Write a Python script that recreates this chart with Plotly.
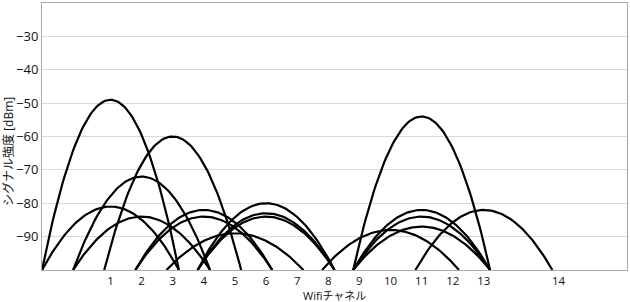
import plotly.graph_objects as go
import numpy as np

# Access point data: channel and peak signal strength (dBm)
ap_channels = [1, 1, 2, 2, 3, 4, 4, 5, 6, 6, 6, 10, 11, 11, 11, 11, 13]
ap_peaks = [-49, -81, -72, -84, -60, -82, -84, -89, -80, -83, -84, -88, -54, -82, -84, -87, -82]

# Channel centre frequencies (MHz) and tick labels
chan_numbers = [1, 2, 3, 4, 5, 6, 7, 8, 9, 10, 11, 12, 13, 14]
chan_freqs = [2412, 2417, 2422, 2427, 2432, 2437, 2442, 2447, 2452, 2457, 2462, 2467, 2472, 2484]
y_ticks = [-30, -40, -50, -60, -70, -80, -90]

FLOOR = -100
HALF_WIDTH = 11  # MHz

freq_of = dict(zip(chan_numbers, chan_freqs))

fig = go.Figure()
for ch, pk in zip(ap_channels, ap_peaks):
    c = freq_of[ch]
    xs = np.linspace(c - HALF_WIDTH, c + HALF_WIDTH, 81)
    ys = FLOOR + (pk - FLOOR) * (1 - ((xs - c) / HALF_WIDTH) ** 2)
    fig.add_trace(go.Scatter(x=xs, y=ys, mode="lines",
                             line=dict(color="black", width=2.2),
                             showlegend=False, hoverinfo="skip"))

font_family = "Open Sans, Noto Sans CJK JP, sans-serif"
L, R, T, B = 42, 3, 3, 32
PW = 630 - L - R
PH = 302 - T - B
fig.update_layout(
    width=630, height=302,
    margin=dict(l=L, r=R, t=T, b=B, autoexpand=False),
    paper_bgcolor="white", plot_bgcolor="white",
    font=dict(family=font_family, size=13, color="#111"),
    xaxis=dict(range=[2401, 2495], tickvals=chan_freqs,
               ticktext=[str(c) for c in chan_numbers],
               showgrid=False, zeroline=False, showline=True, mirror=True,
               linecolor="#aaa", linewidth=1, ticks="", ticklen=0,
               automargin=False, tickfont=dict(size=11.5)),
    yaxis=dict(range=[-100, -20], tickvals=y_ticks,
               ticktext=["−" + str(abs(v)) for v in y_ticks],
               showgrid=True, gridcolor="#d9d9d9", gridwidth=1,
               zeroline=False, showline=True, mirror=True,
               linecolor="#aaa", linewidth=1, ticks="", ticklen=0,
               automargin=False, tickfont=dict(size=13)),
    annotations=[
        dict(text="シグナル強度 [dBm]", textangle=-90,
             xref="paper", yref="paper", x=(8 - L) / PW, y=(270 - 152) / PH,
             xanchor="center", yanchor="middle", showarrow=False,
             font=dict(size=12)),
        dict(text="Wifiチャネル",
             xref="paper", yref="paper", x=0.5, y=0, yshift=-(295 - 270),
             xanchor="center", yanchor="middle", showarrow=False,
             borderpad=0, font=dict(size=11)),
    ],
)

fig.write_html("out.html")
